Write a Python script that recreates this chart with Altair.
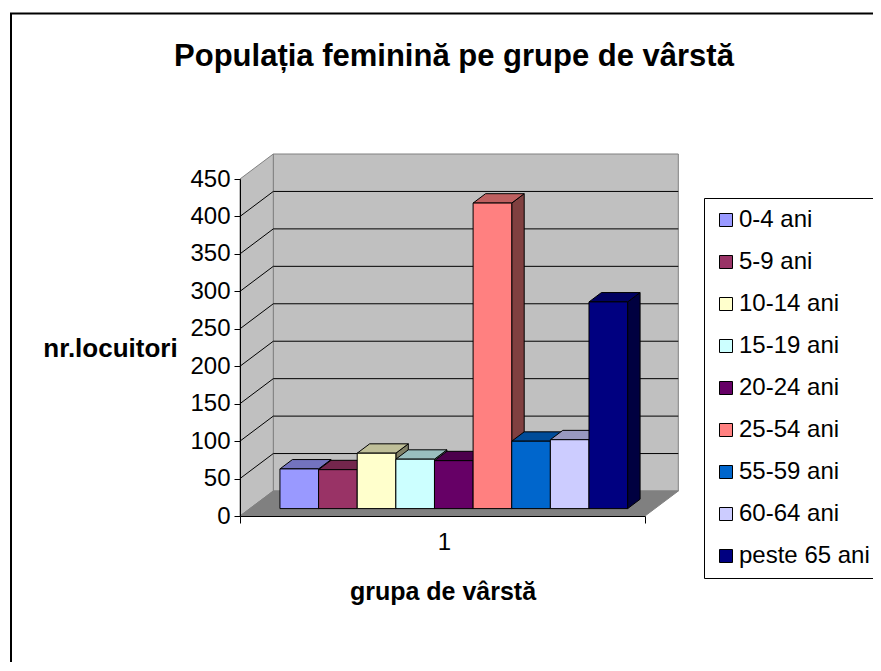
import altair as alt
import pandas as pd

# ---------------- data ----------------
title_text = "Populația feminină pe grupe de vârstă"
age_groups = ["0-4 ani", "5-9 ani", "10-14 ani", "15-19 ani", "20-24 ani",
              "25-54 ani", "55-59 ani", "60-64 ani", "peste 65 ani"]
populations = [53, 52, 74, 66, 64, 408, 90, 92, 276]
colors = ["#9999FF", "#993366", "#FFFFCC", "#CCFFFF", "#660066",
          "#FF8080", "#0066CC", "#CCCCFF", "#000080"]
y_ticks = [0, 50, 100, 150, 200, 250, 300, 350, 400, 450]
x_category = "1"
x_title = "grupa de vârstă"
y_title = "nr.locuitori"

# ---------------- layout ----------------
FONT = "Liberation Sans"
PLOT_W, PLOT_H = 405, 337
X_MAX, Y_MAX = 405, 450
DEPTH_X = 33.3                      # depth offset, x units
DEPTH_Y = 25 * Y_MAX / PLOT_H       # depth offset, y units (25 px)
F0, F1 = 0.296, 0.67                # bar front / back depth fractions
BAR_START, BAR_W = 30.1, 38.63
X_MID = 204


def shade(h, k):
    r, g, b = int(h[1:3], 16), int(h[3:5], 16), int(h[5:7], 16)
    return "#%02x%02x%02x" % (round(r * k), round(g * k), round(b * k))


xs = alt.Scale(domain=[0, X_MAX], nice=False, zero=False)
ys = alt.Scale(domain=[0, Y_MAX], nice=False, zero=False)

x_axis = alt.Axis(
    values=[0, X_MID, X_MAX],
    labelExpr=f"datum.value == {X_MID} ? '{x_category}' : ''",
    tickColor={"condition": {"test": f"datum.value == {X_MID}", "value": "transparent"},
               "value": "black"},
    tickSize=7, labelPadding=7, labelFontSize=24, labelFont=FONT,
    labelColor="black", labelFlush=False, labelOverlap=False,
    domainColor="black", grid=False, zindex=1,
    title=x_title, titleFont=FONT, titleFontSize=25, titleFontWeight="bold",
    titleColor="black", titleBaseline="alphabetic", titleY=83,
)
y_axis = alt.Axis(
    values=y_ticks, tickSize=6, labelPadding=4, labelFontSize=24,
    labelFont=FONT, labelColor="black", domainColor="black",
    tickColor="black", grid=False, zindex=1,
    title=y_title, titleFont=FONT, titleFontSize=26, titleFontWeight="bold",
    titleColor="black", titleAngle=0, titleAlign="center",
    titleBaseline="alphabetic", titleX=-130, titleY=177,
)

# back wall
wall_df = pd.DataFrame({"x": [DEPTH_X], "x2": [X_MAX + DEPTH_X],
                        "y": [DEPTH_Y], "y2": [Y_MAX + DEPTH_Y]})
back_wall = alt.Chart(wall_df).mark_rect(
    fill="#C0C0C0", stroke="#808080", strokeWidth=1
).encode(
    x=alt.X("x:Q", scale=xs, axis=x_axis), x2="x2:Q",
    y=alt.Y("y:Q", scale=ys, axis=y_axis), y2="y2:Q",
)

# left side wall
side_df = pd.DataFrame({"x": [0, DEPTH_X], "y": [0, DEPTH_Y],
                        "y2": [Y_MAX, Y_MAX + DEPTH_Y]})
side_wall = alt.Chart(side_df).mark_area(
    fill="#C0C0C0", stroke="#808080", strokeWidth=1, orient="vertical"
).encode(
    x=alt.X("x:Q", scale=xs, axis=x_axis),
    y=alt.Y("y:Q", scale=ys, axis=y_axis, stack=None),
    y2="y2:Q",
)

# floor
floor_df = pd.DataFrame({"y": [0, DEPTH_Y], "x": [0, DEPTH_X],
                         "x2": [X_MAX, X_MAX + DEPTH_X]})
floor = alt.Chart(floor_df).mark_area(
    fill="#808080", stroke="#808080", strokeWidth=1, orient="horizontal"
).encode(
    y=alt.Y("y:Q", scale=ys, axis=y_axis),
    x=alt.X("x:Q", scale=xs, axis=x_axis, stack=None),
    x2="x2:Q",
)

# gridlines: back wall and side wall
grid_vals = y_ticks[1:-1]
gb_df = pd.DataFrame({"x": [DEPTH_X] * len(grid_vals),
                      "x2": [X_MAX + DEPTH_X] * len(grid_vals),
                      "y": [v + DEPTH_Y for v in grid_vals]})
grid_back = alt.Chart(gb_df).mark_rule(color="black", strokeWidth=1).encode(
    x=alt.X("x:Q", scale=xs, axis=x_axis), x2="x2:Q",
    y=alt.Y("y:Q", scale=ys, axis=y_axis),
)
gs_df = pd.DataFrame({"x": [0] * len(grid_vals), "x2": [DEPTH_X] * len(grid_vals),
                      "y": grid_vals, "y2": [v + DEPTH_Y for v in grid_vals]})
grid_side = alt.Chart(gs_df).mark_rule(color="black", strokeWidth=1).encode(
    x=alt.X("x:Q", scale=xs, axis=x_axis), x2="x2:Q",
    y=alt.Y("y:Q", scale=ys, axis=y_axis), y2="y2:Q",
)

# bars: sides, tops, fronts
side_rows, top_rows, front_rows = [], [], []
for i, (g, v, c) in enumerate(zip(age_groups, populations, colors)):
    left = BAR_START + i * BAR_W
    for f in (F0, F1):
        side_rows.append({"grp": g, "x": left + BAR_W + f * DEPTH_X,
                          "y": f * DEPTH_Y, "y2": v + f * DEPTH_Y,
                          "fill": shade(c, 0.5)})
        top_rows.append({"grp": g, "y": v + f * DEPTH_Y,
                         "x": left + f * DEPTH_X, "x2": left + BAR_W + f * DEPTH_X,
                         "fill": shade(c, 0.75)})
    front_rows.append({"grp": g, "x": left + F0 * DEPTH_X,
                       "x2": left + BAR_W + F0 * DEPTH_X,
                       "y": F0 * DEPTH_Y, "y2": v + F0 * DEPTH_Y})

bar_sides = alt.Chart(pd.DataFrame(side_rows)).mark_area(
    stroke="black", strokeWidth=1, orient="vertical"
).encode(
    x=alt.X("x:Q", scale=xs, axis=x_axis),
    y=alt.Y("y:Q", scale=ys, axis=y_axis, stack=None),
    y2="y2:Q",
    detail="grp:N",
    fill=alt.Fill("fill:N", scale=None),
)

bar_tops = alt.Chart(pd.DataFrame(top_rows)).mark_area(
    stroke="black", strokeWidth=1, orient="horizontal"
).encode(
    y=alt.Y("y:Q", scale=ys, axis=y_axis),
    x=alt.X("x:Q", scale=xs, axis=x_axis, stack=None),
    x2="x2:Q",
    detail="grp:N",
    fill=alt.Fill("fill:N", scale=None),
)

bar_fronts = alt.Chart(pd.DataFrame(front_rows)).mark_rect(
    stroke="black", strokeWidth=1
).encode(
    x=alt.X("x:Q", scale=xs, axis=x_axis), x2="x2:Q",
    y=alt.Y("y:Q", scale=ys, axis=y_axis), y2="y2:Q",
    fill=alt.Fill("grp:N", scale=alt.Scale(domain=age_groups, range=colors),
                  sort=age_groups,
                  legend=alt.Legend(
                      orient="none", legendX=464, legendY=19, direction="vertical",
                      title=None, fillColor="white", strokeColor="black",
                      padding=10, symbolType="square", symbolSize=169,
                      symbolStrokeColor="black", symbolStrokeWidth=1,
                      symbolOpacity=1, labelFontSize=24, labelFont=FONT,
                      labelColor="black", labelOffset=1, rowPadding=18,
                      labelLimit=300,
                  )),
)

# chart title
title_mark = alt.Chart(pd.DataFrame({"t": [title_text]})).mark_text(
    font=FONT, fontSize=31, fontWeight="bold", color="black",
    align="center", baseline="alphabetic"
).encode(text="t:N", x=alt.value(214), y=alt.value(-112.8))

# outer frame
frame = alt.Chart(pd.DataFrame({"a": [0]})).mark_rect(
    fillOpacity=0, stroke="black", strokeWidth=2
).encode(x=alt.value(-229), x2=alt.value(700), y=alt.value(-165.5), y2=alt.value(600))

chart = alt.layer(
    back_wall, side_wall, floor, grid_back, grid_side,
    bar_sides, bar_tops, bar_fronts, title_mark, frame
).properties(
    width=PLOT_W, height=PLOT_H,
    padding={"left": 232, "top": 171, "right": 228, "bottom": 146},
    autosize="none",
).configure_view(strokeWidth=0)

chart.save("out.html", embed_options={"renderer": "svg", "actions": False})
